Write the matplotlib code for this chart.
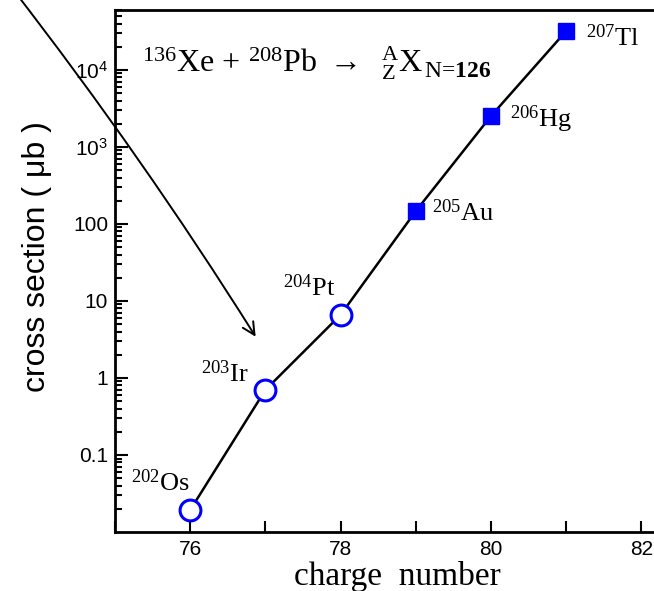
import matplotlib
matplotlib.use("Agg")
import matplotlib.pyplot as plt
from matplotlib.ticker import LogLocator, NullFormatter

plt.rcParams['mathtext.fontset'] = 'custom'
plt.rcParams['mathtext.rm'] = 'Liberation Serif'
plt.rcParams['mathtext.it'] = 'Liberation Serif:italic'
plt.rcParams['mathtext.bf'] = 'Liberation Serif:bold'
plt.rcParams['mathtext.sf'] = 'Liberation Sans'

# data: N=126 isotones
charge = [76, 77, 78, 79, 80, 81]
sigma = [0.0193, 0.70, 6.6, 147, 2520, 32000]
mass = [202, 203, 204, 205, 206, 207]
element = ['Os', 'Ir', 'Pt', 'Au', 'Hg', 'Tl']
measured_new = [True, True, True, False, False, False]  # open circles vs filled squares

xticks = [76, 78, 80, 82]
yticks = [0.1, 1, 10, 100, 1e3, 1e4]
ytick_labels = ['0.1', '1', '10', '100', r'$\mathsf{10}^{\mathsf{3}}$', r'$\mathsf{10}^{\mathsf{4}}$']

fig = plt.figure(figsize=(6.54, 5.91), dpi=100)
ax = fig.add_axes([115 / 654, 59 / 591, 601.6 / 654, 522 / 591])

ax.plot(charge, sigma, color='black', lw=1.8, zorder=2)

xo = [c for c, m in zip(charge, measured_new) if m]
yo = [s for s, m in zip(sigma, measured_new) if m]
xs = [c for c, m in zip(charge, measured_new) if not m]
ys = [s for s, m in zip(sigma, measured_new) if not m]
ax.plot(xo, yo, 'o', ms=15, mfc='white', mec='blue', mew=2.2, zorder=3)
ax.plot(xs, ys, 's', ms=11.5, mfc='blue', mec='blue', zorder=3)

# isotope labels
offsets = [(0, 14, 'right'), (-12, 6, 'right'), (-4, 14, 'right'),
           (12, -7, 'left'), (14, -8, 'left'), (14, -11, 'left')]
for c, s, a, el, (dx, dy, ha) in zip(charge, sigma, mass, element, offsets):
    ax.annotate(r'$^{%d}$%s' % (a, el), (c, s), xytext=(dx, dy),
                textcoords='offset points', ha=ha, va='baseline',
                fontsize=19, family='Liberation Serif')

# reaction
eq = ax.text(0.045, 0.881,
             r'$^{136}$Xe + $^{208}$Pb $\rightarrow$  ${}^{\mathrm{A}}_{\mathrm{Z}}$X',
             transform=ax.transAxes, ha='left', va='baseline', fontsize=23,
             family='Liberation Serif')
ax.annotate(r'N=$\mathbf{126}$', xy=(1, 0), xycoords=eq, ha='left', va='bottom',
            fontsize=17, family='Liberation Serif')

# arrow from outside the frame
ax.annotate('', xy=(76.89, 3.2), xytext=(73.6, 1.26e5), annotation_clip=False,
            arrowprops=dict(arrowstyle='->', color='black', lw=1.4,
                            mutation_scale=22,
                            connectionstyle='arc3,rad=-0.025'))

ax.set_yscale('log')
ax.set_xlim(75, 83)
ax.set_ylim(0.01, 6e4)

ax.set_xticks(range(75, 84))
ax.set_xticklabels(['' if t not in xticks else str(t) for t in range(75, 84)],
                   family='Liberation Sans', fontsize=15)
ax.set_yticks(yticks)
ax.set_yticklabels(ytick_labels, family='Liberation Sans', fontsize=15)
ax.yaxis.set_minor_locator(LogLocator(base=10, subs=range(2, 10), numticks=20))
ax.yaxis.set_minor_formatter(NullFormatter())

ax.tick_params(which='both', direction='in', top=False, right=False, width=1.5)
ax.tick_params(axis='x', which='major', length=8, pad=6)
ax.tick_params(axis='y', which='major', length=9, pad=5)
ax.tick_params(axis='y', which='minor', length=5)

for side in ['left', 'bottom', 'top', 'right']:
    ax.spines[side].set_linewidth(2)

ax.set_xlabel('charge  number', family='Liberation Serif', fontsize=24)
ax.xaxis.set_label_coords((397 - 115) / 601.6, -0.056)
fig.text(37 / 654, 1 - 257 / 591, 'cross section ( μb )', rotation=90,
         ha='center', va='center', fontsize=23, family='Liberation Sans')

fig.savefig('out.png', dpi=100)
